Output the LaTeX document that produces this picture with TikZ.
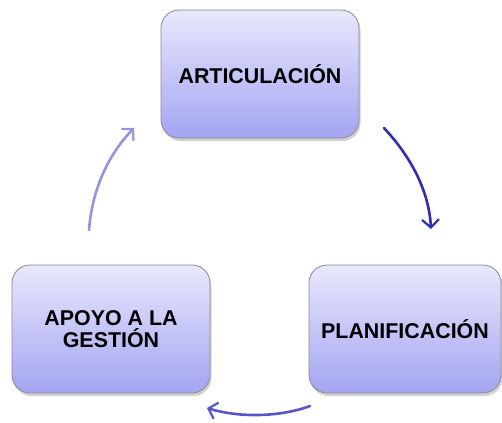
\documentclass[tikz,border=0pt]{standalone}
\usepackage{fontspec}
\setmainfont{Liberation Sans}
\usetikzlibrary{arrows.meta,shadows}
\definecolor{boxtop}{HTML}{E8E8FC}
\definecolor{boxbot}{HTML}{A4A4F2}
\definecolor{boxline}{HTML}{8A8A96}
\definecolor{arrA}{HTML}{2E2EAE}
\definecolor{arrB}{HTML}{5656C6}
\definecolor{arrC}{HTML}{9595DA}
\tikzset{
  stagebox/.style={draw=boxline, line width=0.8pt, rounded corners=18pt,
    top color=boxtop, bottom color=boxbot, minimum width=198pt, minimum height=128pt,
    align=center, font=\fontsize{21.4}{21.5}\selectfont\bfseries,
    drop shadow={shadow xshift=1.5pt, shadow yshift=-3pt, opacity=0.3, fill=black!60}},
  cyc/.style={line width=2.6pt, line cap=round,
    -{Straight Barb[length=8pt,width=17pt,line width=2.2pt]}}
}
\begin{document}
\begin{tikzpicture}[x=1pt,y=-1pt]
\useasboundingbox (0,0) rectangle (502,422);
\node[stagebox] (art) at (260,74) {ARTICULACIÓN};
\node[stagebox, minimum width=192pt] (plan) at (405,329) {PLANIFICACIÓN};
\node[stagebox] (apoyo) at (111,329) {APOYO A LA\\GESTIÓN};
\coordinate (a1) at (384,128);
\coordinate (a2) at (431,229);
\coordinate (b1) at (310,406);
\coordinate (b2) at (207,408);
\coordinate (c1) at (89,230);
\coordinate (c2) at (134,128);
\draw[cyc, draw=arrA] (a1) .. controls (412,158) and (429,192) .. (a2);
\draw[cyc, draw=arrB] (b1) .. controls (280,417) and (240,418) .. (b2);
\draw[cyc, draw=arrC] (c1) .. controls (92,190) and (108,155) .. (c2);
\end{tikzpicture}
\end{document}
